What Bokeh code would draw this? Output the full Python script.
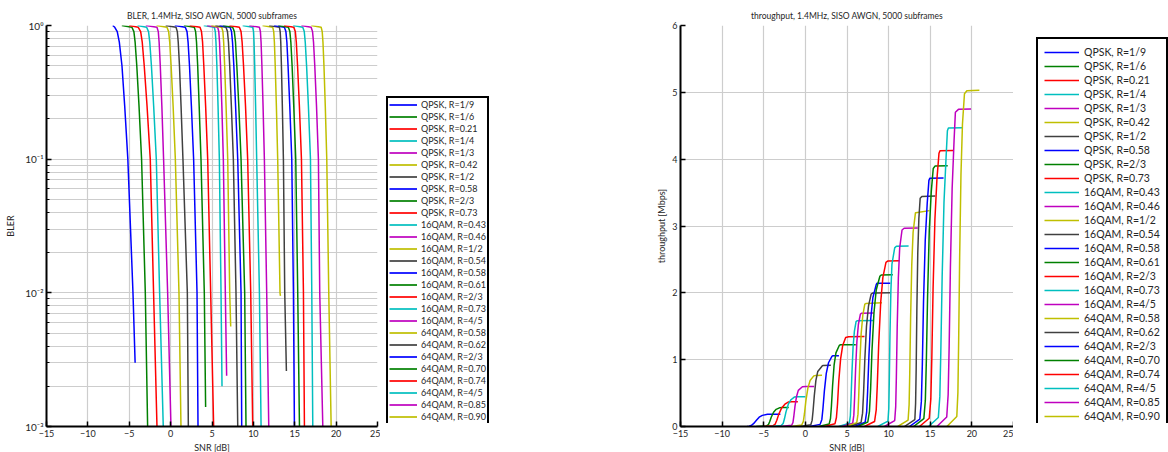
from bokeh.plotting import figure
from bokeh.layouts import row
from bokeh.models import Legend, LegendItem, FixedTicker, Range1d
from bokeh.embed import file_html
from bokeh.resources import INLINE

# ---------------- data ----------------
rates_qpsk = ["1/9", "1/6", "0.21", "1/4", "1/3", "0.42", "1/2", "0.58", "2/3", "0.73"]
rates_16qam = ["0.43", "0.46", "1/2", "0.54", "0.58", "0.61", "2/3", "0.73", "4/5"]
rates_64qam = ["0.58", "0.62", "2/3", "0.70", "0.74", "4/5", "0.85", "0.90"]

# BLER levels at which the SNR of every curve was read (last level may be replaced by bler_last)
bler_levels = [1.0, 0.97, 0.9, 0.75, 0.5, 0.25, 0.1, 0.01, 0.001]

# SNR [dB] of each curve at the BLER levels above
snr_qpsk = [
    [-7.0, -6.75, -6.45, -6.2, -5.88, -5.55, -5.17, -4.55, -4.29],
    [-5.9, -4.68, -4.44, -4.29, -4.09, -3.82, -3.51, -3.06, -2.78],
    [-5.0, -3.91, -3.62, -3.43, -3.19, -2.85, -2.46, -2.06, -1.65],
    [-4.0, -2.90, -2.67, -2.52, -2.32, -2.05, -1.73, -1.33, -0.89],
    [-3.0, -1.65, -1.49, -1.39, -1.25, -1.06, -0.85, -0.36, 0.04],
    [-1.7, -0.44, -0.24, -0.11, 0.06, 0.30, 0.57, 1.01, 1.25],
    [-0.6, 0.65, 0.81, 0.92, 1.07, 1.26, 1.49, 2.02, 2.14],
    [0.5, 1.77, 1.98, 2.11, 2.28, 2.51, 2.78, 3.19, 3.31],
    [1.6, 2.86, 3.02, 3.13, 3.27, 3.45, 3.67, 4.07, 4.23],
    [2.3, 3.55, 3.73, 3.86, 4.01, 4.23, 4.48, 4.84, 5.20],
]
snr_16qam = [
    [4.0, 5.28, 5.40, 5.48, 5.59, 5.73, 5.89, 6.09, 6.21],
    [4.4, 5.69, 5.82, 5.91, 6.03, 6.19, 6.37, 6.61, 6.77],
    [4.9, 6.17, 6.32, 6.41, 6.53, 6.70, 6.90, 7.14, 7.26],
    [5.4, 6.69, 6.87, 6.99, 7.14, 7.34, 7.58, 7.90, 8.11],
    [5.9, 7.18, 7.36, 7.48, 7.64, 7.85, 8.11, 8.51, 8.59],
    [6.3, 7.50, 7.70, 7.84, 8.00, 8.24, 8.51, 8.95, 9.11],
    [7.1, 8.31, 8.51, 8.64, 8.81, 9.05, 9.31, 9.68, 9.92],
    [8.7, 9.92, 10.02, 10.08, 10.16, 10.27, 10.40, 10.73, 10.93],
    [9.5, 10.73, 10.85, 10.93, 11.03, 11.17, 11.33, 11.61, 11.86],
]
snr_64qam = [
    [11.1, 12.34, 12.46, 12.54, 12.64, 12.78, 12.94, 13.22, 13.27],
    [11.9, 13.15, 13.24, 13.31, 13.39, 13.50, 13.63, 13.79, 13.99],
    [12.5, 13.75, 13.93, 14.05, 14.19, 14.40, 14.64, 14.84, 14.96],
    [13.0, 14.23, 14.41, 14.53, 14.68, 14.88, 15.12, 15.36, 15.57],
    [13.7, 14.88, 15.07, 15.19, 15.34, 15.56, 15.81, 16.05, 16.17],
    [14.8, 15.97, 16.15, 16.27, 16.43, 16.65, 16.90, 17.06, 17.18],
    [15.8, 16.98, 17.15, 17.27, 17.42, 17.63, 17.86, 18.02, 18.39],
    [17.0, 18.19, 18.32, 18.41, 18.53, 18.69, 18.87, 19.11, 19.40],
]

# last (lowest) BLER value reached by each curve
bler_last_qpsk = [0.003, 0.001, 0.001, 0.001, 0.001, 0.001, 0.001, 0.001, 0.0014, 0.001]
bler_last_16qam = [0.002, 0.0024, 0.0056, 0.001, 0.001, 0.001, 0.001, 0.001, 0.001]
bler_last_64qam = [0.0095, 0.0026, 0.001, 0.001, 0.001, 0.001, 0.001, 0.001]

# peak throughput [Mbps] and last simulated SNR [dB] of each curve
tput_max_qpsk = [0.185, 0.285, 0.37, 0.445, 0.60, 0.765, 0.915, 1.06, 1.225, 1.345]
tput_max_16qam = [1.585, 1.70, 1.85, 2.0, 2.145, 2.27, 2.48, 2.70, 2.97]
tput_max_64qam = [3.23, 3.45, 3.72, 3.90, 4.13, 4.47, 4.75, 5.03]
snr_end_qpsk = [-3.0, -2.0, -0.9, 0.0, 1.05, 2.0, 3.06, 4.03, 6.05, 7.1]
snr_end_16qam = [8.15, 8.2, 9.2, 10.2, 10.2, 10.5, 11.3, 12.4, 13.5]
snr_end_64qam = [14.9, 15.6, 16.6, 17.1, 17.8, 18.9, 19.9, 20.9]

x_ticks = [-15, -10, -5, 0, 5, 10, 15, 20, 25]
x_tick_labels = ["\u221215", "\u221210", "\u22125", "0", "5", "10", "15", "20", "25"]
bler_ticks = [0.001, 0.01, 0.1, 1.0]
bler_tick_labels = ["10\u207b\u00b3", "10\u207b\u00b2", "10\u207b\u00b9", "10\u2070"]
tput_ticks = [0, 1, 2, 3, 4, 5, 6]

# ---------------- assemble ----------------
labels = (["QPSK, R=" + r for r in rates_qpsk] + ["16QAM, R=" + r for r in rates_16qam]
          + ["64QAM, R=" + r for r in rates_64qam])
snr_pts = snr_qpsk + snr_16qam + snr_64qam
bler_last = bler_last_qpsk + bler_last_16qam + bler_last_64qam
tput_max = tput_max_qpsk + tput_max_16qam + tput_max_64qam
snr_end = snr_end_qpsk + snr_end_16qam + snr_end_64qam

cycle = ["#0000ff", "#008000", "#ff0000", "#00bfbf", "#bf00bf", "#bfbf00", "#404040"]
colors = [cycle[i % len(cycle)] for i in range(len(labels))]

FONT = "Lato"
TXT = "#262626"
GRID = "#cdcdcd"


def style(p, title_text):
    p.title.text = title_text
    p.title.align = "center"
    p.title.text_font = FONT
    p.title.text_font_size = "8.5px"
    p.title.text_font_style = "normal"
    p.title.text_color = TXT
    p.title.standoff = 9
    p.outline_line_color = None
    p.background_fill_color = "white"
    p.border_fill_color = "white"
    for ax in (p.xaxis[0], p.yaxis[0]):
        ax.axis_line_width = 2
        ax.axis_line_color = "black"
        ax.major_tick_in = 5
        ax.major_tick_out = 0
        ax.major_tick_line_color = "black"
        ax.major_tick_line_width = 1.5
        ax.major_label_text_font = FONT
        ax.major_label_text_font_size = "9px"
        ax.major_label_text_color = TXT
        ax.major_label_standoff = 3
        ax.axis_label_text_font = FONT
        ax.axis_label_text_font_size = "9px"
        ax.axis_label_text_font_style = "normal"
        ax.axis_label_text_color = TXT
        ax.axis_label_standoff = 2
    p.xaxis.minor_tick_line_color = None
    p.xaxis.ticker = FixedTicker(ticks=x_ticks)
    p.xaxis.major_label_overrides = dict(zip(x_ticks, x_tick_labels))
    p.xaxis.axis_label = "SNR [dB]"
    p.xgrid.grid_line_color = GRID
    p.xgrid.grid_line_width = 1.2
    p.ygrid.grid_line_color = GRID
    p.ygrid.grid_line_width = 1.2


def legend_fig(width, items_src, x_off, y_off, font_size, row_h, spacing, padding, glyph_w, standoff):
    lf = figure(width=width, height=452, x_range=Range1d(0, 1), y_range=Range1d(0, 1),
                x_axis_location=None, y_axis_location=None, output_backend="svg",
                toolbar_location=None, min_border=0)
    lf.outline_line_color = None
    lf.xgrid.visible = False
    lf.ygrid.visible = False
    items = []
    for lab, col in items_src:
        # lines kept outside the (empty) frame: only their legend glyphs show
        r = lf.line([5, 6], [5, 6], line_color=col, line_width=1.7)
        items.append(LegendItem(label=lab, renderers=[r]))
    leg = Legend(items=items, location=(x_off, y_off), margin=0, padding=padding, spacing=spacing,
                 label_height=row_h, glyph_height=row_h, glyph_width=glyph_w, label_standoff=standoff,
                 label_text_font=FONT, label_text_font_size=font_size, label_text_color=TXT,
                 label_text_align="left",
                 border_line_color="black", border_line_alpha=1.0, border_line_width=2,
                 background_fill_alpha=1)
    lf.add_layout(leg, "center")
    return lf


# ---- left: BLER ----
p1 = figure(frame_width=331, frame_height=401, x_range=Range1d(-15, 25), y_range=Range1d(1e-3, 1),
            y_axis_type="log", output_backend="svg", toolbar_location=None,
            min_border_left=46, min_border_right=3, min_border_top=25, min_border_bottom=26)
style(p1, "BLER, 1.4MHz, SISO AWGN, 5000 subframes")
minor_bler = [m * d for d in (0.001, 0.01, 0.1) for m in range(2, 10)]
p1.yaxis.ticker = FixedTicker(ticks=bler_ticks, minor_ticks=minor_bler)
p1.yaxis.major_label_overrides = dict(zip(bler_ticks, bler_tick_labels))
p1.yaxis.major_label_text_font_size = "10px"
p1.yaxis.minor_tick_in = 3
p1.yaxis.minor_tick_out = 0
p1.yaxis.minor_tick_line_color = "black"
p1.yaxis.axis_label = "BLER"
p1.yaxis.axis_label_standoff = 6
p1.ygrid.minor_grid_line_color = GRID
p1.ygrid.minor_grid_line_width = 1.2

# ---- right: throughput ----
p2 = figure(frame_width=333, frame_height=401, x_range=Range1d(-15, 25), y_range=Range1d(0, 6),
            output_backend="svg", toolbar_location=None,
            min_border_left=96, min_border_right=0, min_border_top=25, min_border_bottom=26)
style(p2, "throughput, 1.4MHz, SISO AWGN, 5000 subframes")
p2.yaxis.ticker = FixedTicker(ticks=tput_ticks)
p2.yaxis.minor_tick_line_color = None
p2.yaxis.axis_label = "throughput [Mbps]"

for i, lab in enumerate(labels):
    b = bler_levels[:-1] + [bler_last[i]]
    x = snr_pts[i]
    p1.line(x, b, line_color=colors[i], line_width=1.5)
    xt = x + [snr_end[i]]
    yt = [tput_max[i] * (1 - v) for v in b] + [tput_max[i]]
    p2.line(xt, yt, line_color=colors[i], line_width=1.5)

pairs = list(zip(labels, colors))
lf1 = legend_fig(204, pairs, 6, -2, "9px", 11, 1, 1, 28, 4)
lf2 = legend_fig(155, pairs, 23, -8, "10.5px", 14, 0, 6, 35, 5)

layout = row(p1, lf1, p2, lf2)
open("out.html", "w").write(file_html(layout, INLINE))
